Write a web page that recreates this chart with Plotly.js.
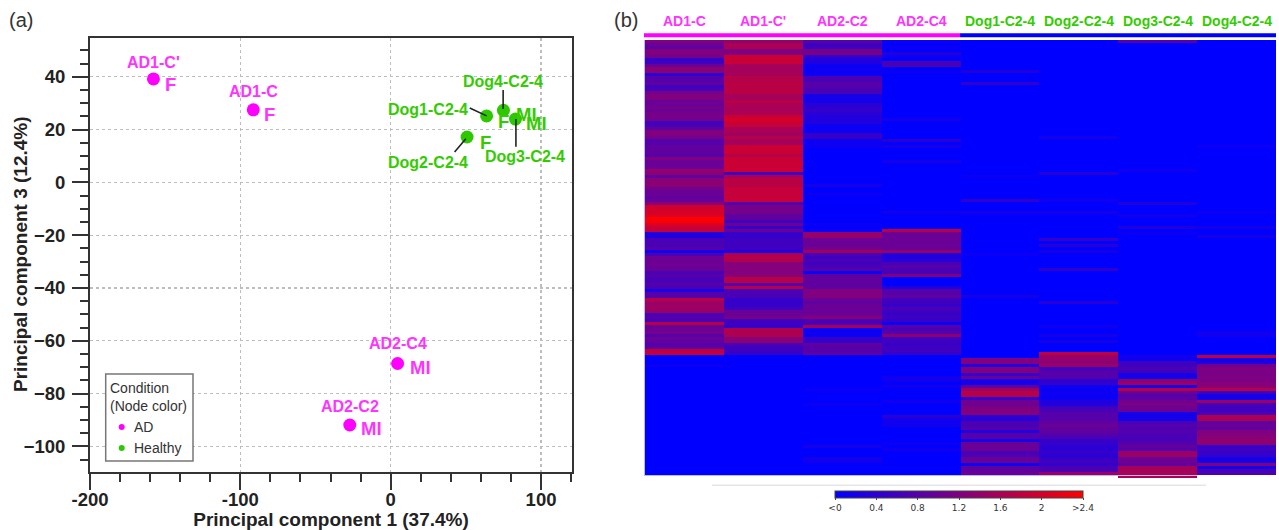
<!DOCTYPE html>
<html><head><meta charset="utf-8">
<script src="https://cdn.plot.ly/plotly-3.0.1.min.js"></script>
<style>html,body{margin:0;padding:0;background:#fff}#c{width:1279px;height:530px}</style>
</head><body><div id="c"></div>
<script>
// ---------- PCA data ----------
const adNames = ["AD1-C'", "AD1-C", "AD2-C4", "AD2-C2"];
const adPC1 = [-157.8, -91.4, 4.6, -27.2];
const adPC3 = [39.2, 27.5, -68.6, -91.9];
const adSex = ["F", "F", "MI", "MI"];
const adLabelX = [-157.5, -91.5, 5, -27];
const adLabelY = [45.6, 34.3, -61.2, -84.7];
const adSexX = [-146.5, -80.7, 19.6, -13];
const adSexY = [36.9, 25.9, -70.3, -93.4];

const dogNames = ["Dog1-C2-4", "Dog2-C2-4", "Dog3-C2-4", "Dog4-C2-4"];
const dogPC1 = [63.8, 50.8, 83, 75];
const dogPC3 = [25.2, 17.2, 24, 27.3];
const dogSex = ["F", "F", "MI", "MI"];
const dogLabelX = [25, 25, 89.4, 74.8];
const dogLabelY = [27.8, 7.4, 9.7, 38.4];
const dogSexX = [75.1, 62.8, 97.3, 90];
const dogSexY = [22.9, 15.3, 22.2, 25.6];
const dogLeadX0 = [52.6, 42.5, 83.3, 74.8];
const dogLeadY0 = [28.2, 11.5, 13.5, 35];
const dogLeadX1 = [63.8, 50, 83.3, 74.8];
const dogLeadY1 = [25.2, 16.5, 24, 27.8];

// ---------- Heatmap data (rows top to bottom) ----------
const heatColumns = ["AD1-C", "AD1-C'", "AD2-C2", "AD2-C4", "Dog1-C2-4", "Dog2-C2-4", "Dog3-C2-4", "Dog4-C2-4"];
const colAD1C = [
1.2,1.0,.9,1.2,1.2,1.1,.5,.6,1.0,1.3,
1.3,.4,.8,.8,.9,.6,.7,1.1,1.2,1.2,
1.0,1.0,1.1,1.0,1.1,1.1,1.1,.6,.7,.9,
1.2,1.2,1.1,.8,.8,.9,.9,.9,.8,1.2,
1.0,1.0,1.0,1.4,1.3,.9,1.3,1.3,1.3,1.1,
1.0,1.0,.9,1.0,1.3,1.95,2.0,2.0,2.1,2.35,
2.35,2.05,1.9,1.85,.3,.3,.7,.7,.7,.8,
.15,.7,1.05,1.0,1.05,1.0,1.0,.7,.8,.7,
.7,.8,.7,.25,.8,.8,1.75,1.45,1.45,1.5,
1.4,.7,.8,.7,1.7,1.0,1.0,1.1,.8,1.0,
.9,.8,.9,1.8,1.85,
0,0,0,.1,0,0,0,0,0,0,
0,0,0,0,0,0,0,0,0,0,
0,0,0,0,0,0,0,0,0,0,
0,0,0,0,0,0,0,0,0,0];
const colAD1Cp = [
1.4,1.6,1.6,1.2,1.2,1.9,1.9,1.85,1.55,1.55,
1.55,1.55,1.7,1.7,1.75,1.75,1.75,1.75,1.55,1.55,
1.75,1.6,1.6,1.6,1.6,1.9,2.0,1.9,1.85,1.6,
1.6,1.5,1.7,1.55,1.55,1.9,1.9,1.9,1.7,1.9,
1.9,1.9,1.9,1.9,.6,1.6,1.75,1.75,1.75,1.85,
1.85,1.85,1.85,1.85,.8,1.1,1.1,1.1,.9,.9,
.6,1.0,.5,1.0,.5,.5,.6,.6,.6,.6,
.3,1.65,1.7,1.65,1.25,1.25,1.25,1.2,1.3,1.7,
1.7,.8,1.7,.7,.7,.7,.5,.5,.5,.6,
1.0,1.0,1.1,.6,.6,.5,1.65,1.65,1.6,1.3,
1.3,.7,.6,.6,.5,
0,0,0,0,0,0,0,0,0,0,
0,0,0,0,0,0,0,0,0,0,
0,0,0,0,0,0,0,0,0,0,
0,0,0,0,0,0,0,0,0,0];
const colAD2C2 = [
.8,.6,.6,1.1,1.1,.5,.3,.3,.1,.1,
.1,.1,.7,.7,.8,.8,.7,.7,.2,.2,
.2,.4,.4,.5,.4,.3,.3,.3,.1,.1,
.1,.5,.5,.1,.1,.1,0,0,0,0,
0,0,0,0,0,0,0,0,.2,0,
0,.1,0,0,0,0,0,0,0,0,
0,.1,0,.1,1.4,1.4,1.0,1.0,1.0,1.1,
1.5,.7,.6,.7,.6,.7,.8,.1,.9,.9,
.9,.9,.9,1.2,1.2,1.2,1.0,.9,1.0,1.0,
1.0,1.0,1.25,.7,.7,1.55,.1,.1,.1,.5,
.5,.9,.8,.8,.9,
0,0,0,0,0,0,0,0,0,0,
0,.1,0,0,0,0,.1,0,0,0,
0,0,0,0,0,0,0,0,0,0,
.2,0,0,0,.2,.15,0,0,0,0];
const colAD2C4 = [
.1,0,.1,0,.3,.1,0,.7,.7,0,
.1,0,0,0,0,0,0,0,0,0,
0,0,0,0,0,0,.2,0,0,0,
0,0,0,.4,0,.2,0,0,0,0,
.2,0,0,0,0,0,0,0,0,0,
0,0,0,0,0,0,0,.15,0,0,
0,0,0,1.75,1.0,1.0,1.0,1.0,1.0,1.0,
1.4,.3,.3,.4,.7,.8,.7,.7,1.2,0,
0,0,.3,.8,.8,.9,.6,.6,.5,.7,
.6,.5,.6,.5,.1,.8,.7,.8,1.3,.6,
.6,.5,.6,.6,.5,
0,0,0,0,0,0,0,.15,.15,0,
.15,0,0,0,0,.15,0,0,0,0,
.4,.15,.15,.15,0,0,0,0,0,.1,
0,.15,0,0,0,0,0,0,0,0];
const colDog1 = [
0,0,0,0,0,0,0,0,0,0,
.3,0,0,0,.45,0,0,0,0,0,
0,0,0,0,0,0,0,0,0,0,
0,0,0,0,0,0,0,0,0,0,
0,0,0,0,0,.1,0,0,0,0,
0,0,0,.45,0,0,0,.2,0,0,
0,0,0,0,0,0,0,0,0,0,
0,.1,0,0,0,0,0,0,0,0,
0,0,0,0,0,.2,0,0,0,0,
0,0,0,0,0,0,0,0,0,0,
0,0,0,0,0,
0,1.2,1.2,.3,1.2,1.2,.5,1.0,.2,.2,
.9,1.5,1.7,1.7,.5,1.05,1.05,1.15,1.2,1.25,
.4,.4,.7,.7,.8,.3,.8,.8,.2,1.0,
1.0,1.0,.7,.7,1.0,1.0,.1,.9,.9,1.0];
const colDog2 = [
0,0,0,0,0,0,0,0,0,0,
0,0,0,0,0,0,0,0,0,0,
0,0,0,0,0,0,0,0,0,0,
0,0,.2,0,0,0,0,0,0,0,
0,0,0,0,.35,0,0,0,0,0,
0,0,0,.15,0,0,0,.2,0,0,
0,0,0,0,0,0,.5,0,.35,0,
.2,0,0,0,0,0,.45,0,0,0,
0,0,0,0,0,0,0,.35,0,0,
0,0,0,0,0,.15,0,0,.2,0,
.2,0,0,0,1.8,
1.4,1.4,1.3,1.45,.6,.8,.8,.8,.4,.5,
.1,.1,.1,.1,.1,.3,.3,.6,.7,.8,
.8,.8,.9,1.0,.9,.9,.8,.7,.5,.5,
.4,.4,.5,.4,.5,.6,.5,.7,.7,1.45];
const colDog3 = [
.8,0,0,0,0,0,0,0,0,0,
0,0,0,0,0,0,0,0,0,0,
0,0,0,0,0,0,0,0,0,0,
0,0,0,0,0,0,0,0,0,0,
0,0,0,.15,0,0,0,0,0,0,
0,0,0,0,.3,0,0,0,.15,0,
0,0,.3,0,.1,0,0,0,0,0,
0,0,0,0,0,0,0,0,0,0,
0,0,0,0,0,0,0,0,0,0,
0,0,0,0,0,0,0,0,0,0,
0,0,0,0,0,
.2,.1,.6,.6,.7,.6,.2,.2,1.3,1.5,
.2,1.7,1.0,.8,.9,1.05,1.15,1.05,1.0,.2,
.2,.2,.7,.8,.7,.8,.7,.7,.7,.8,
.9,.8,1.45,1.45,1.0,1.05,.9,1.55,1.55,1.6,
1.6];
const colDog4 = [
0,0,0,0,0,0,0,0,0,0,
0,0,0,0,0,0,0,0,0,0,
0,0,0,0,0,0,0,0,0,0,
0,0,0,0,0,.1,0,0,0,0,
0,0,0,0,0,0,0,0,0,0,
0,0,0,0,0,0,0,.1,0,0,
0,0,.2,0,0,.2,0,0,0,0,
0,0,0,0,0,0,0,0,0,0,
0,0,0,0,0,0,0,0,0,0,
0,0,0,0,0,0,0,.15,.15,0,
0,0,0,0,0,
1.8,.2,.3,1.05,1.2,1.15,1.15,1.2,1.15,1.25,
1.3,1.7,.6,.2,.2,1.45,.7,.6,.6,.7,
1.65,1.55,.9,1.0,.9,1.2,1.2,1.3,1.35,1.35,
.5,.6,.5,.5,.2,.2,1.2,.2,.7,.7];
const barTickVals = [0, 0.4, 0.8, 1.2, 1.6, 2, 2.4];
const barTickText = ["<0", "0.4", "0.8", "1.2", "1.6", "2", ">2.4"];
const legendTitle = ["Condition", "(Node color)"];
const legendItems = ["AD", "Healthy"];
const yTitle = "Principal component 3 (12.4%)";

// ---------- Styling ----------
const W = 1279, H = 530;
const px = v => v / W, py = v => 1 - v / H;
const FONT = '"Liberation Sans", Arial, sans-serif';
const MAG = '#ff00ff', MAGT = '#ff33ff', GRN = '#2ec800', GRNT = '#33cc00', INK = '#222';

const columns = [colAD1C, colAD1Cp, colAD2C2, colAD2C4, colDog1, colDog2, colDog3, colDog4];
const nRows = Math.max(...columns.map(c => c.length));
const z = [];
for (let r = 0; r < nRows; r++) z.push(columns.map(c => r < c.length ? c[r] : null));

const traces = [
  {type:'scatter', mode:'markers', name:'AD', x:adPC1, y:adPC3, text:adNames, xaxis:'x', yaxis:'y',
   marker:{color:MAG, size:13}, showlegend:false},
  {type:'scatter', mode:'markers', name:'Healthy', x:dogPC1, y:dogPC3, text:dogNames, xaxis:'x', yaxis:'y',
   marker:{color:GRN, size:13}, showlegend:false},
  {type:'heatmap', z:z, xaxis:'x2', yaxis:'y2', zmin:0, zmax:2.4, showlegend:false, hoverongaps:false,
   colorscale:[[0,'rgb(0,0,255)'],[1,'rgb(255,0,0)']],
   colorbar:{orientation:'h', xref:'paper', yref:'paper', x:px(835), xanchor:'left', xpad:0, ypad:0,
     y:py(491), yanchor:'top', lenmode:'pixels', len:248, thicknessmode:'pixels', thickness:7,
     outlinecolor:'#444', outlinewidth:1, ticks:'outside', ticklen:2, tickwidth:1, tickcolor:'#444',
     tickvals:barTickVals, ticktext:barTickText,
     tickfont:{family:'"DejaVu Sans"', size:9, color:'#333'}}}
];

const ann = [];
const txt = (x, y, t, color, size) => ann.push({xref:'x', yref:'y', x, y, text:t, showarrow:false,
  xanchor:'center', yanchor:'middle', font:{family:FONT, size, color, weight:700}});
adNames.forEach((n,i) => { txt(adLabelX[i], adLabelY[i], n, MAGT, 16); txt(adSexX[i], adSexY[i], adSex[i], MAGT, 18.5); });
dogNames.forEach((n,i) => { txt(dogLabelX[i], dogLabelY[i], n, GRNT, 16); txt(dogSexX[i], dogSexY[i], dogSex[i], GRNT, 18.5); });
heatColumns.forEach((n,i) => ann.push({xref:'x2', yref:'paper', x:i, y:py(21), text:n, showarrow:false,
  xanchor:'center', yanchor:'middle', font:{family:FONT, size:14, weight:700, color:i<4?MAGT:GRNT}}));
const plain = (x, y, t, size) => ann.push({xref:'paper', yref:'paper', x:px(x), y:py(y), text:t, showarrow:false,
  xanchor:'left', yanchor:'middle', xshift:-2, font:{family:FONT, size, color:'#333'}});
plain(9, 20, '(a)', 20);
plain(614, 20, '(b)', 20);
plain(110, 388, legendTitle[0], 14);
plain(110, 406, legendTitle[1], 14);
plain(134, 427, legendItems[0], 14);
plain(134, 448, legendItems[1], 14);
ann.push({xref:'paper', yref:'paper', x:px(20), y:py(254), text:yTitle, textangle:-90, showarrow:false,
  xanchor:'center', yanchor:'middle', font:{family:FONT, size:19, weight:700, color:INK}});

const shapes = [];
const rect = (x0,y0,x1,y1,c) => shapes.push({type:'rect', xref:'paper', yref:'paper', x0:px(x0), x1:px(x1), y0:py(y0), y1:py(y1), fillcolor:c, line:{width:0}});
rect(644,33.3,960,37.3,MAG);
rect(960,33.3,1276,37.3,'#0000ff');
rect(644,40,645,476,'#b9b9f2');
rect(645,475,1197,476,'#b9b9f2');
rect(712,484.5,1206,486,'#e6e6ea');
shapes.push({type:'rect', xref:'paper', yref:'paper', x0:px(105.7), x1:px(193), y0:py(374), y1:py(461), fillcolor:'#fff', line:{color:'#777', width:1.5}});
[[427,MAG],[448,GRN]].forEach(([cy,c]) => shapes.push({type:'circle', xref:'paper', yref:'paper', x0:px(118.7), x1:px(124.7), y0:py(cy+3), y1:py(cy-3), fillcolor:c, line:{width:0}}));
dogNames.forEach((n,i) => shapes.push({type:'line', xref:'x', yref:'y', x0:dogLeadX0[i], y0:dogLeadY0[i], x1:dogLeadX1[i], y1:dogLeadY1[i], line:{color:'#222', width:1.6}}));

const layout = {
  width:W, height:H, paper_bgcolor:'#fff', plot_bgcolor:'#fff',
  margin:{l:0,r:0,t:0,b:0,autoexpand:false},
  font:{family:FONT, color:INK},
  hovermode:false, showlegend:false,
  xaxis:{domain:[px(90),px(572)], range:[-200,120.6], anchor:'y', zeroline:false, automargin:true,
    showline:true, mirror:true, linecolor:'#333', linewidth:2,
    tickmode:'array', tickvals:[-200,-100,0,100], ticktext:['-200','-100','0','100'],
    ticks:'outside', ticklen:16, tickwidth:2, tickcolor:'#333', ticklabelstandoff:-6,
    tickfont:{family:FONT, size:18.5, weight:700, color:INK},
    showgrid:true, gridcolor:'#bdbdbd', griddash:'3px,3px', gridwidth:1.2,
    minor:{dtick:20, tick0:-200, ticks:'outside', ticklen:8, tickwidth:2, tickcolor:'#333', showgrid:false},
    title:{text:'Principal component 1 (37.4%)', standoff:2, font:{family:FONT, size:19, weight:700, color:INK}}},
  yaxis:{domain:[py(472),py(38)], range:[-109.7,54.7], anchor:'x', zeroline:false,
    showline:true, mirror:true, linecolor:'#333', linewidth:2,
    tickmode:'array', tickvals:[-100,-80,-60,-40,-20,0,20,40],
    ticks:'outside', ticklen:16, tickwidth:2, tickcolor:'#333', ticklabelstandoff:3,
    tickfont:{family:FONT, size:18.5, weight:700, color:INK},
    showgrid:true, gridcolor:'#bdbdbd', griddash:'3px,3px', gridwidth:1.2,
    minor:{dtick:5, tick0:0, ticks:'outside', ticklen:8, tickwidth:2, tickcolor:'#333', showgrid:false}},
  xaxis2:{domain:[px(645),px(1276)], range:[-0.5,7.5], anchor:'y2', visible:false},
  yaxis2:{domain:[py(478),py(40)], range:[145.5,-0.5], anchor:'x2', visible:false},
  annotations:ann, shapes:shapes
};
Plotly.newPlot('c', traces, layout, {displayModeBar:false, staticPlot:true});
</script></body></html>
